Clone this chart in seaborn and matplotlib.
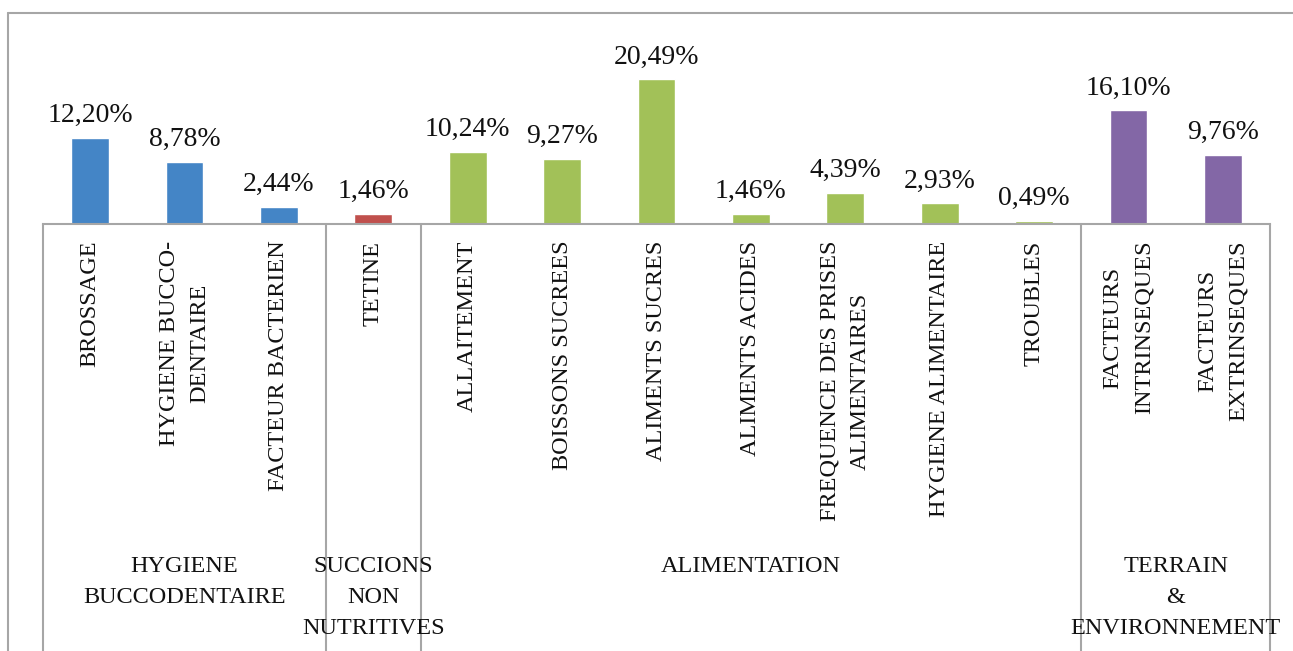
import matplotlib
matplotlib.use("Agg")
import matplotlib.pyplot as plt
import matplotlib.transforms as mtransforms
from matplotlib.lines import Line2D
import pandas as pd
import seaborn as sns

# Data
categories = [
    "BROSSAGE", "HYGIENE BUCCO-\nDENTAIRE", "FACTEUR BACTERIEN",
    "TETINE",
    "ALLAITEMENT", "BOISSONS SUCREES", "ALIMENTS SUCRES", "ALIMENTS ACIDES",
    "FREQUENCE DES PRISES\nALIMENTAIRES", "HYGIENE ALIMENTAIRE", "TROUBLES",
    "FACTEURS\nINTRINSEQUES", "FACTEURS\nEXTRINSEQUES",
]
values = [12.20, 8.78, 2.44, 1.46, 10.24, 9.27, 20.49, 1.46, 4.39, 2.93, 0.49, 16.10, 9.76]
group_names = ["HYGIENE\nBUCCODENTAIRE", "SUCCIONS\nNON\nNUTRITIVES", "ALIMENTATION",
               "TERRAIN\n&\nENVIRONNEMENT"]
group_sizes = [3, 1, 7, 2]
group_colors = ["#4485C6", "#C0504D", "#A2C158", "#8367A6"]

groups = [g for g, n in zip(group_names, group_sizes) for _ in range(n)]
df = pd.DataFrame({"categorie": categories, "valeur": values, "groupe": groups})

sns.set_style("white")
plt.rcParams["font.family"] = ["Liberation Serif", "DejaVu Serif"]

W, H = 1293, 651
fig = plt.figure(figsize=(W / 100, H / 100), dpi=100)
ax = fig.add_axes([43 / W, (H - 224) / H, 1227 / W, 176.5 / H])

sns.barplot(data=df, x="categorie", y="valeur", hue="groupe",
            palette=group_colors, dodge=False, width=0.4, legend=False,
            saturation=1, ax=ax)

ax.set_ylim(0, 25)
ax.set_xlim(-0.5, len(categories) - 0.5)
ax.set_xlabel("")
ax.set_ylabel("")
ax.set_yticks([])

for side in ["top", "left", "right"]:
    ax.spines[side].set_visible(False)
ax.spines["bottom"].set_color("#A6A6A6")
ax.spines["bottom"].set_linewidth(1.5)

# Data labels with French decimal comma
for cont in ax.containers:
    labs = [f"{b.get_height():.2f}%".replace(".", ",") if b.get_height() > 0 else ""
            for b in cont]
    ax.bar_label(cont, labels=labs, padding=7, fontsize=20, color="#111111")

ax.set_xticks(range(len(categories)))
ax.set_xticklabels(categories, rotation=90, fontsize=17.5, linespacing=1.6,
                   color="#111111")
ax.tick_params(axis="x", length=0, pad=12)

# Group separators and group labels below the axis
trans = mtransforms.blended_transform_factory(ax.transData, ax.transAxes)
bottom_ax = -(H - 224) / 176.5
edges = [-0.5]
for n in group_sizes:
    edges.append(edges[-1] + n)
for e in edges:
    ax.add_line(Line2D([e, e], [0, bottom_ax], transform=trans, color="#A6A6A6",
                       lw=1.5, clip_on=False))

ftrans = mtransforms.blended_transform_factory(ax.transData, fig.transFigure)
for name, a, b in zip(group_names, edges[:-1], edges[1:]):
    ax.text((a + b) / 2, (H - 556) / H, name, transform=ftrans, ha="center",
            va="top", fontsize=17.5, linespacing=1.62, color="#111111")

# Outer chart frame (top and left edges visible)
fig.add_artist(Line2D([8 / W, 1.0], [(H - 13) / H, (H - 13) / H],
                      transform=fig.transFigure, color="#A6A6A6", lw=1.5))
fig.add_artist(Line2D([8 / W, 8 / W], [0, (H - 13) / H],
                      transform=fig.transFigure, color="#A6A6A6", lw=1.5))

fig.savefig("out.png", dpi=100, facecolor="white")
